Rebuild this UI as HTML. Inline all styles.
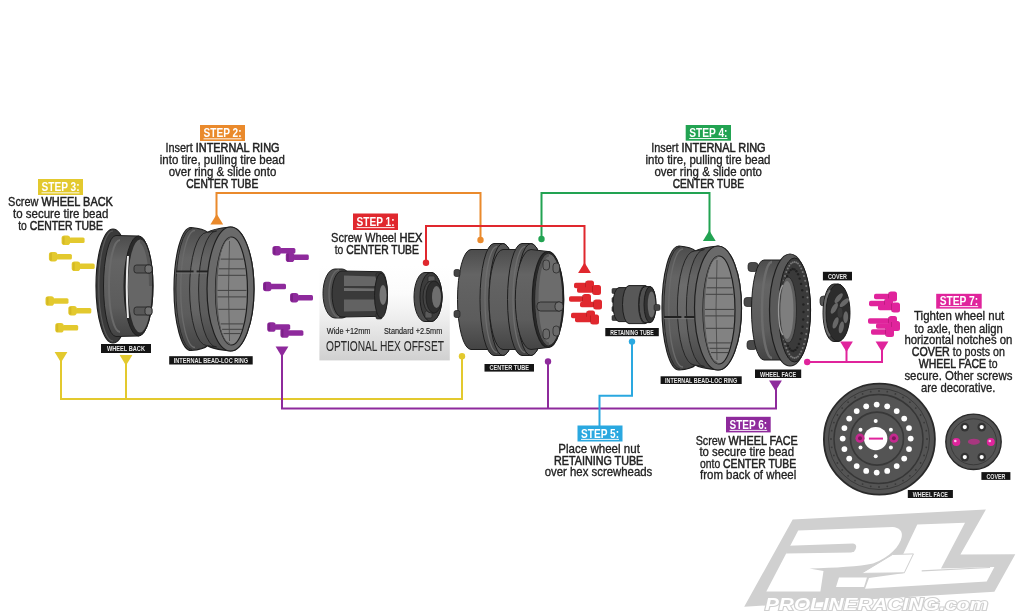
<!DOCTYPE html><html><head><meta charset="utf-8"><style>html,body{margin:0;padding:0;background:#fff;}svg{display:block;will-change:transform;}</style></head><body>
<svg width="1024" height="614" viewBox="0 0 1024 614" font-family='"Liberation Sans", sans-serif'>
<defs>
<linearGradient id="hexbox" x1="0" y1="0" x2="0" y2="1"><stop offset="0" stop-color="#ffffff"/><stop offset="0.3" stop-color="#fbfbfb"/><stop offset="0.55" stop-color="#eeeeee"/><stop offset="1" stop-color="#d0d0d0"/></linearGradient>
<linearGradient id="body" x1="0" y1="0" x2="0" y2="1"><stop offset="0" stop-color="#4c4c4c"/><stop offset="0.25" stop-color="#646464"/><stop offset="0.7" stop-color="#5c5c5c"/><stop offset="1" stop-color="#444"/></linearGradient>
<linearGradient id="band" x1="0" y1="0" x2="0" y2="1"><stop offset="0" stop-color="#555"/><stop offset="0.3" stop-color="#6c6c6c"/><stop offset="0.7" stop-color="#646464"/><stop offset="1" stop-color="#4a4a4a"/></linearGradient>
<linearGradient id="inner" x1="0" y1="0" x2="1" y2="0"><stop offset="0" stop-color="#7a7a7a"/><stop offset="1" stop-color="#5a5a5a"/></linearGradient>
</defs>
<rect width="1024" height="614" fill="#fff"/>
<g>
<polygon points="792.7,519.4 985.9,509.6 960.4,554.5 1015.3,554.2 994.4,591.7 744.2,606.8" fill="#d0d0d0"/>
<path d="M798.2,530.5 L892.6,527 C899,527.5 903,531 901.7,537 C900,546 890,557 873,563.6 C860,566.5 835,568 809.4,568.5 L823.5,571 L820.4,591.5 L766.3,591.5 Z" fill="#fff"/>
<path d="M917.3,524.5 L965,522.8 L941,568.5 L994.4,566.9 L986.7,581.6 L865,588.8 L869,578 L903,573.2 L913.4,553.9 L903,554.5 Z" fill="#fff"/>
<polygon points="892.6,554.5 913.4,553.9 904.3,572.8 861.3,573.4" fill="#fff" stroke="#d0d0d0" stroke-width="1"/>
<path d="M921.7,570.8 L990,567.5" stroke="#d0d0d0" stroke-width="1.2"/>
<path d="M788,545.8 L853,543.5 Q857,544 856,548 Q855,552 851,552.5 L786,553.5 Z" fill="#d0d0d0"/>
<polygon points="839,577.5 867,577.5 864,587 836,587" fill="#fff"/>
<text x="765" y="609.8" font-size="16.5" font-weight="bold" font-style="italic" fill="#fff" stroke="#d0d0d0" stroke-width="2" paint-order="stroke" textLength="223" lengthAdjust="spacingAndGlyphs" letter-spacing="0">PROLINERACING.com</text>
</g>
<rect x="319.4" y="266" width="130.4" height="94.4" fill="url(#hexbox)"/>
<polyline points="61,358 61,399 462,399 462,356" fill="none" stroke="#e3c92e" stroke-width="2"/>
<polyline points="126,360 126,399" fill="none" stroke="#e3c92e" stroke-width="2"/>
<polyline points="216.5,220 216.5,193 480.5,193 480.5,240" fill="none" stroke="#ea8a2c" stroke-width="2"/>
<polyline points="541.5,239 541.5,193 709.5,193 709.5,235" fill="none" stroke="#22a352" stroke-width="2"/>
<polyline points="426,262 426,226 584.5,226 584.5,266" fill="none" stroke="#e0282e" stroke-width="2"/>
<polyline points="282,352 282,408.5 776,408.5 776,385" fill="none" stroke="#8e2a9c" stroke-width="2"/>
<polyline points="548,361 548,408.5" fill="none" stroke="#8e2a9c" stroke-width="2"/>
<polyline points="632,342 632,395.8 599.5,395.8 599.5,427" fill="none" stroke="#2aa8e0" stroke-width="2"/>
<polyline points="807,362 882,362 882,346" fill="none" stroke="#e0249c" stroke-width="2"/>
<polyline points="846.5,346 846.5,362" fill="none" stroke="#e0249c" stroke-width="2"/>
<polygon points="54.6,352 67.4,352 61,362.5" fill="#e3c92e"/>
<polygon points="119.6,355 132.4,355 126,365.5" fill="#e3c92e"/>
<polygon points="210.4,224.5 223.2,224.5 216.8,214" fill="#ea8a2c"/>
<polygon points="578.1,273.0 590.9,273.0 584.5,262.5" fill="#e0282e"/>
<polygon points="702.9,241.0 715.7,241.0 709.3,230.5" fill="#22a352"/>
<polygon points="275.6,346.5 288.4,346.5 282,357.0" fill="#8e2a9c"/>
<polygon points="769.1,380.5 781.9,380.5 775.5,391.0" fill="#8e2a9c"/>
<polygon points="840.1,341.5 852.9,341.5 846.5,352.0" fill="#e0249c"/>
<polygon points="875.6,341.5 888.4,341.5 882,352.0" fill="#e0249c"/>
<circle cx="426" cy="262.8" r="3.2" fill="#e0282e"/>
<circle cx="480.5" cy="240" r="3.2" fill="#ea8a2c"/>
<circle cx="541.5" cy="239" r="3.2" fill="#22a352"/>
<circle cx="462" cy="356.2" r="3.2" fill="#e3c92e"/>
<circle cx="548" cy="361.4" r="3.2" fill="#8e2a9c"/>
<circle cx="632" cy="341.6" r="3.2" fill="#2aa8e0"/>
<circle cx="807.2" cy="362" r="3.2" fill="#e0249c"/>
<rect x="38" y="179" width="45" height="16" fill="#e3c92e"/>
<text x="41.5" y="191.2" font-size="13.3" font-weight="bold" fill="#fff" textLength="38.0" lengthAdjust="spacingAndGlyphs">STEP 3:</text>
<rect x="41.5" y="192.4" width="38.0" height="0.9" fill="#fff"/>
<text x="8.1" y="206.4" font-size="12.2" font-weight="normal" fill="#222" stroke="#222" stroke-width="0.32" textLength="104.8" lengthAdjust="spacingAndGlyphs" >Screw <tspan stroke-width="0.52">WHEEL BACK</tspan></text>
<text x="13.0" y="218.3" font-size="12.2" font-weight="normal" fill="#222" stroke="#222" stroke-width="0.32" textLength="95.3" lengthAdjust="spacingAndGlyphs" >to secure tire bead</text>
<text x="18.2" y="229.7" font-size="12.2" font-weight="normal" fill="#222" stroke="#222" stroke-width="0.32" textLength="84.8" lengthAdjust="spacingAndGlyphs" >to <tspan stroke-width="0.52">CENTER TUBE</tspan></text>
<rect x="200" y="125" width="45" height="16" fill="#ea8a2c"/>
<text x="203.5" y="137.2" font-size="13.3" font-weight="bold" fill="#fff" textLength="38.0" lengthAdjust="spacingAndGlyphs">STEP 2:</text>
<rect x="203.5" y="138.4" width="38.0" height="0.9" fill="#fff"/>
<text x="165.5" y="152.1" font-size="12.2" font-weight="normal" fill="#222" stroke="#222" stroke-width="0.32" textLength="114.0" lengthAdjust="spacingAndGlyphs" >Insert <tspan stroke-width="0.52">INTERNAL RING</tspan></text>
<text x="159.8" y="163.9" font-size="12.2" font-weight="normal" fill="#222" stroke="#222" stroke-width="0.32" textLength="125.1" lengthAdjust="spacingAndGlyphs" >into tire, pulling tire bead</text>
<text x="168.7" y="176.0" font-size="12.2" font-weight="normal" fill="#222" stroke="#222" stroke-width="0.32" textLength="107.6" lengthAdjust="spacingAndGlyphs" >over ring &amp; slide onto</text>
<text x="186.2" y="188.0" font-size="12.2" font-weight="normal" fill="#222" stroke="#222" stroke-width="0.32" textLength="72.1" lengthAdjust="spacingAndGlyphs" ><tspan stroke-width="0.52">CENTER TUBE</tspan></text>
<rect x="353" y="213.5" width="45" height="16.5" fill="#e0282e"/>
<text x="356.5" y="226.0" font-size="13.7" font-weight="bold" fill="#fff" textLength="38.0" lengthAdjust="spacingAndGlyphs">STEP 1:</text>
<rect x="356.5" y="227.2" width="38.0" height="0.9" fill="#fff"/>
<text x="331.0" y="241.8" font-size="12.6" font-weight="normal" fill="#222" stroke="#222" stroke-width="0.32" textLength="91.4" lengthAdjust="spacingAndGlyphs" >Screw Wheel <tspan stroke-width="0.52">HEX</tspan></text>
<text x="334.7" y="253.6" font-size="12.6" font-weight="normal" fill="#222" stroke="#222" stroke-width="0.32" textLength="84.2" lengthAdjust="spacingAndGlyphs" >to <tspan stroke-width="0.52">CENTER TUBE</tspan></text>
<rect x="685.7" y="125" width="45.299999999999955" height="15.699999999999989" fill="#22a352"/>
<text x="689.2" y="136.9" font-size="13.0" font-weight="bold" fill="#fff" textLength="38.3" lengthAdjust="spacingAndGlyphs">STEP 4:</text>
<rect x="689.2" y="138.1" width="38.3" height="0.9" fill="#fff"/>
<text x="651.2" y="152.1" font-size="12.2" font-weight="normal" fill="#222" stroke="#222" stroke-width="0.32" textLength="114.4" lengthAdjust="spacingAndGlyphs" >Insert <tspan stroke-width="0.52">INTERNAL RING</tspan></text>
<text x="645.5" y="163.9" font-size="12.2" font-weight="normal" fill="#222" stroke="#222" stroke-width="0.32" textLength="124.9" lengthAdjust="spacingAndGlyphs" >into tire, pulling tire bead</text>
<text x="654.4" y="176.0" font-size="12.2" font-weight="normal" fill="#222" stroke="#222" stroke-width="0.32" textLength="107.6" lengthAdjust="spacingAndGlyphs" >over ring &amp; slide onto</text>
<text x="672.7" y="188.0" font-size="12.2" font-weight="normal" fill="#222" stroke="#222" stroke-width="0.32" textLength="71.3" lengthAdjust="spacingAndGlyphs" ><tspan stroke-width="0.52">CENTER TUBE</tspan></text>
<rect x="577.5" y="425.5" width="45.0" height="16.0" fill="#2aa8e0"/>
<text x="581.0" y="437.7" font-size="13.3" font-weight="bold" fill="#fff" textLength="38.0" lengthAdjust="spacingAndGlyphs">STEP 5:</text>
<rect x="581.0" y="438.9" width="38.0" height="0.9" fill="#fff"/>
<text x="558.3" y="453.0" font-size="12.2" font-weight="normal" fill="#222" stroke="#222" stroke-width="0.32" textLength="81.6" lengthAdjust="spacingAndGlyphs" >Place wheel nut</text>
<text x="554.0" y="465.0" font-size="12.2" font-weight="normal" fill="#222" stroke="#222" stroke-width="0.32" textLength="89.3" lengthAdjust="spacingAndGlyphs" ><tspan stroke-width="0.52">RETAINING TUBE</tspan></text>
<text x="544.7" y="476.3" font-size="12.2" font-weight="normal" fill="#222" stroke="#222" stroke-width="0.32" textLength="107.6" lengthAdjust="spacingAndGlyphs" >over hex screwheads</text>
<rect x="726" y="416.8" width="44.700000000000045" height="15.599999999999966" fill="#8e2a9c"/>
<text x="729.5" y="428.7" font-size="12.9" font-weight="bold" fill="#fff" textLength="37.7" lengthAdjust="spacingAndGlyphs">STEP 6:</text>
<rect x="729.5" y="429.9" width="37.7" height="0.9" fill="#fff"/>
<text x="695.7" y="444.6" font-size="12.2" font-weight="normal" fill="#222" stroke="#222" stroke-width="0.32" textLength="101.9" lengthAdjust="spacingAndGlyphs" >Screw <tspan stroke-width="0.52">WHEEL FACE</tspan></text>
<text x="699.4" y="455.9" font-size="12.2" font-weight="normal" fill="#222" stroke="#222" stroke-width="0.32" textLength="94.6" lengthAdjust="spacingAndGlyphs" >to secure tire bead</text>
<text x="700.0" y="467.8" font-size="12.2" font-weight="normal" fill="#222" stroke="#222" stroke-width="0.32" textLength="96.2" lengthAdjust="spacingAndGlyphs" >onto <tspan stroke-width="0.52">CENTER TUBE</tspan></text>
<text x="700.0" y="479.1" font-size="12.2" font-weight="normal" fill="#222" stroke="#222" stroke-width="0.32" textLength="96.2" lengthAdjust="spacingAndGlyphs" >from back of wheel</text>
<rect x="936.2" y="293.8" width="45.5" height="14.800000000000011" fill="#e0249c"/>
<text x="939.7" y="305.0" font-size="12.3" font-weight="bold" fill="#fff" textLength="38.5" lengthAdjust="spacingAndGlyphs">STEP 7:</text>
<rect x="939.7" y="306.2" width="38.5" height="0.9" fill="#fff"/>
<text x="914.0" y="320.2" font-size="12.2" font-weight="normal" fill="#222" stroke="#222" stroke-width="0.32" textLength="90.3" lengthAdjust="spacingAndGlyphs" >Tighten wheel nut</text>
<text x="914.6" y="332.5" font-size="12.2" font-weight="normal" fill="#222" stroke="#222" stroke-width="0.32" textLength="88.2" lengthAdjust="spacingAndGlyphs" >to axle, then align</text>
<text x="904.4" y="343.5" font-size="12.2" font-weight="normal" fill="#222" stroke="#222" stroke-width="0.32" textLength="108.0" lengthAdjust="spacingAndGlyphs" >horizontal notches on</text>
<text x="911.8" y="355.8" font-size="12.2" font-weight="normal" fill="#222" stroke="#222" stroke-width="0.32" textLength="93.2" lengthAdjust="spacingAndGlyphs" ><tspan stroke-width="0.52">COVER</tspan> to posts on</text>
<text x="918.8" y="367.8" font-size="12.2" font-weight="normal" fill="#222" stroke="#222" stroke-width="0.32" textLength="78.8" lengthAdjust="spacingAndGlyphs" ><tspan stroke-width="0.52">WHEEL FACE</tspan> to</text>
<text x="904.4" y="379.9" font-size="12.2" font-weight="normal" fill="#222" stroke="#222" stroke-width="0.32" textLength="108.0" lengthAdjust="spacingAndGlyphs" >secure. Other screws</text>
<text x="921.0" y="391.7" font-size="12.2" font-weight="normal" fill="#222" stroke="#222" stroke-width="0.32" textLength="74.4" lengthAdjust="spacingAndGlyphs" >are decorative.</text>
<text x="326.7" y="334.0" font-size="9" font-weight="normal" fill="#222" stroke="#222" stroke-width="0.15" textLength="43.8" lengthAdjust="spacingAndGlyphs" >Wide +12mm</text>
<text x="384.0" y="334.0" font-size="9" font-weight="normal" fill="#222" stroke="#222" stroke-width="0.15" textLength="58.3" lengthAdjust="spacingAndGlyphs" >Standard +2.5mm</text>
<text x="326.0" y="350.6" font-size="14.6" font-weight="normal" fill="#2a2a2a" stroke="#2a2a2a" stroke-width="0.05" textLength="117.9" lengthAdjust="spacingAndGlyphs" >OPTIONAL HEX OFFSET</text>
<g><rect x="61.6" y="235.6" width="8.5" height="9.5" rx="2.8" fill="#e3c92e"/><rect x="69.1" y="237.6" width="15.5" height="5.5" rx="1.5" fill="#e3c92e"/><rect x="62.6" y="236.6" width="2" height="7.5" fill="#b89a10" opacity="0.35"/></g>
<g><rect x="48.9" y="251.9" width="8.5" height="9.5" rx="2.8" fill="#e3c92e"/><rect x="56.4" y="253.9" width="15.5" height="5.5" rx="1.5" fill="#e3c92e"/><rect x="49.9" y="252.9" width="2" height="7.5" fill="#b89a10" opacity="0.35"/></g>
<g><rect x="71.7" y="261.6" width="8.5" height="9.5" rx="2.8" fill="#e3c92e"/><rect x="79.2" y="263.6" width="15.5" height="5.5" rx="1.5" fill="#e3c92e"/><rect x="72.7" y="262.6" width="2" height="7.5" fill="#b89a10" opacity="0.35"/></g>
<g><rect x="45.5" y="296.2" width="8.5" height="9.5" rx="2.8" fill="#e3c92e"/><rect x="53.0" y="298.2" width="15.5" height="5.5" rx="1.5" fill="#e3c92e"/><rect x="46.5" y="297.2" width="2" height="7.5" fill="#b89a10" opacity="0.35"/></g>
<g><rect x="68.3" y="305.9" width="8.5" height="9.5" rx="2.8" fill="#e3c92e"/><rect x="75.8" y="307.9" width="15.5" height="5.5" rx="1.5" fill="#e3c92e"/><rect x="69.3" y="306.9" width="2" height="7.5" fill="#b89a10" opacity="0.35"/></g>
<g><rect x="55.2" y="323.1" width="8.5" height="9.5" rx="2.8" fill="#e3c92e"/><rect x="62.7" y="325.1" width="15.5" height="5.5" rx="1.5" fill="#e3c92e"/><rect x="56.2" y="324.1" width="2" height="7.5" fill="#b89a10" opacity="0.35"/></g>
<g><rect x="272.4" y="245.9" width="8.5" height="9.5" rx="2.8" fill="#8e2a9c"/><rect x="279.9" y="247.9" width="15.5" height="5.5" rx="1.5" fill="#8e2a9c"/><rect x="273.4" y="246.9" width="2" height="7.5" fill="#5a1060" opacity="0.35"/></g>
<g><rect x="285.8" y="252.6" width="8.5" height="9.5" rx="2.8" fill="#8e2a9c"/><rect x="293.3" y="254.6" width="15.5" height="5.5" rx="1.5" fill="#8e2a9c"/><rect x="286.8" y="253.6" width="2" height="7.5" fill="#5a1060" opacity="0.35"/></g>
<g><rect x="263" y="281.8" width="8.5" height="9.5" rx="2.8" fill="#8e2a9c"/><rect x="270.5" y="283.8" width="15.5" height="5.5" rx="1.5" fill="#8e2a9c"/><rect x="264" y="282.8" width="2" height="7.5" fill="#5a1060" opacity="0.35"/></g>
<g><rect x="290" y="292.9" width="8.5" height="9.5" rx="2.8" fill="#8e2a9c"/><rect x="297.5" y="294.9" width="15.5" height="5.5" rx="1.5" fill="#8e2a9c"/><rect x="291" y="293.9" width="2" height="7.5" fill="#5a1060" opacity="0.35"/></g>
<g><rect x="267.2" y="322.2" width="8.5" height="9.5" rx="2.8" fill="#8e2a9c"/><rect x="274.7" y="324.2" width="15.5" height="5.5" rx="1.5" fill="#8e2a9c"/><rect x="268.2" y="323.2" width="2" height="7.5" fill="#5a1060" opacity="0.35"/></g>
<g><rect x="280.4" y="328.2" width="8.5" height="9.5" rx="2.8" fill="#8e2a9c"/><rect x="287.9" y="330.2" width="15.5" height="5.5" rx="1.5" fill="#8e2a9c"/><rect x="281.4" y="329.2" width="2" height="7.5" fill="#5a1060" opacity="0.35"/></g>
<g><rect x="574" y="282.8" width="12.5" height="5.5" rx="1.8" fill="#e0282e"/><rect x="585.5" y="280.5" width="8.5" height="10" rx="2.5" fill="#e0282e"/><rect x="585.0" y="281.5" width="1" height="8" fill="#901010" opacity="0.4"/></g>
<g><rect x="577" y="287.2" width="16.5" height="5.5" rx="1.8" fill="#e0282e"/><rect x="592.5" y="285.0" width="8.5" height="10" rx="2.5" fill="#e0282e"/><rect x="592.0" y="286.0" width="1" height="8" fill="#901010" opacity="0.4"/></g>
<g><rect x="569" y="296.2" width="14.5" height="5.5" rx="1.8" fill="#e0282e"/><rect x="582.5" y="294.0" width="8.5" height="10" rx="2.5" fill="#e0282e"/><rect x="582.0" y="295.0" width="1" height="8" fill="#901010" opacity="0.4"/></g>
<g><rect x="580" y="301.8" width="14.5" height="5.5" rx="1.8" fill="#e0282e"/><rect x="593.5" y="299.5" width="8.5" height="10" rx="2.5" fill="#e0282e"/><rect x="593.0" y="300.5" width="1" height="8" fill="#901010" opacity="0.4"/></g>
<g><rect x="571" y="312.8" width="16.5" height="5.5" rx="1.8" fill="#e0282e"/><rect x="586.5" y="310.5" width="8.5" height="10" rx="2.5" fill="#e0282e"/><rect x="586.0" y="311.5" width="1" height="8" fill="#901010" opacity="0.4"/></g>
<g><rect x="575" y="316.8" width="16.5" height="5.5" rx="1.8" fill="#e0282e"/><rect x="590.5" y="314.5" width="8.5" height="10" rx="2.5" fill="#e0282e"/><rect x="590.0" y="315.5" width="1" height="8" fill="#901010" opacity="0.4"/></g>
<g><rect x="874" y="293.8" width="15.5" height="5.5" rx="1.8" fill="#e0249c"/><rect x="888.5" y="291.5" width="8.5" height="10" rx="2.5" fill="#e0249c"/><rect x="888.0" y="292.5" width="1" height="8" fill="#901060" opacity="0.4"/></g>
<g><rect x="869" y="300.8" width="16.5" height="5.5" rx="1.8" fill="#e0249c"/><rect x="884.5" y="298.5" width="8.5" height="10" rx="2.5" fill="#e0249c"/><rect x="884.0" y="299.5" width="1" height="8" fill="#901060" opacity="0.4"/></g>
<g><rect x="878" y="304.8" width="14.5" height="5.5" rx="1.8" fill="#e0249c"/><rect x="891.5" y="302.5" width="8.5" height="10" rx="2.5" fill="#e0249c"/><rect x="891.0" y="303.5" width="1" height="8" fill="#901060" opacity="0.4"/></g>
<g><rect x="868" y="318.2" width="21.5" height="5.5" rx="1.8" fill="#e0249c"/><rect x="888.5" y="316.0" width="8.5" height="10" rx="2.5" fill="#e0249c"/><rect x="888.0" y="317.0" width="1" height="8" fill="#901060" opacity="0.4"/></g>
<g><rect x="876" y="323.2" width="16.5" height="5.5" rx="1.8" fill="#e0249c"/><rect x="891.5" y="321.0" width="8.5" height="10" rx="2.5" fill="#e0249c"/><rect x="891.0" y="322.0" width="1" height="8" fill="#901060" opacity="0.4"/></g>
<g><rect x="871" y="329.2" width="15.5" height="5.5" rx="1.8" fill="#e0249c"/><rect x="885.5" y="327.0" width="8.5" height="10" rx="2.5" fill="#e0249c"/><rect x="885.0" y="328.0" width="1" height="8" fill="#901060" opacity="0.4"/></g>
<ellipse cx="113" cy="286" rx="17" ry="57" fill="#3a3a3a" stroke="#1e1e1e" stroke-width="1.2" />
<path d="M113,231 A14,54 0 0 0 113,341" fill="none" stroke="#5a5a5a" stroke-width="1.2" />
<path d="M116,235.5 L138.5,236 A14.5,50 0 0 1 138.5,336 L116,336.5 A12.5,50.5 0 0 1 116,235.5 Z" fill="url(#body)" stroke="#1e1e1e" stroke-width="1" />
<path d="M120,240 A11,46 0 0 0 120,332" fill="none" stroke="#6a6a6a" stroke-width="2" />
<ellipse cx="138.5" cy="286" rx="14.5" ry="50" fill="#2a2a2a" stroke="#1e1e1e" stroke-width="1" />
<ellipse cx="140" cy="286" rx="12" ry="46.5" fill="#666" stroke="none" stroke-width="1" />
<path d="M127,256 Q124.5,286 127,318 L129,318 Q126.5,286 129,256 Z" fill="#e8e8e8" stroke="none" stroke-width="1" />
<path d="M140,239.5 A12,46.5 0 0 1 152,286 L149,286 A10,43 0 0 0 140,243 Z" fill="#555" stroke="none" stroke-width="1" />
<rect x="134" y="265" width="18" height="8" rx="2.5" fill="#585858" stroke="#222" stroke-width="0.8"/>
<rect x="145" y="265" width="7" height="8" rx="2.5" fill="#707070" stroke="#222" stroke-width="0.8"/>
<rect x="134" y="307" width="18" height="8" rx="2.5" fill="#585858" stroke="#222" stroke-width="0.8"/>
<rect x="145" y="307" width="7" height="8" rx="2.5" fill="#707070" stroke="#222" stroke-width="0.8"/>
<rect x="101" y="344" width="50.0" height="9.0" fill="#151515"/>
<text x="107.0" y="351.4" font-size="7.6" font-weight="bold" fill="#e8e8e8" textLength="38.0" lengthAdjust="spacingAndGlyphs">WHEEL BACK</text>
<path d="M191,227.5 Q203.59,228.5 207.59,232.5 Q211.59,229 230.5,227 A23.5,62 0 0 1 230.5,351 Q211.59,349 207.59,345.5 Q203.59,349.5 191,350.5 A17,61.5 0 0 1 191,227.5 Z" fill="url(#body)" stroke="#1e1e1e" stroke-width="1.2" />
<path d="M192,228.5 A16,60.0 0 0 0 192,349.5" fill="none" stroke="#2a2a2a" stroke-width="1" />
<path d="M195,230.5 A14,57.5 0 0 0 195,347.5" fill="none" stroke="#6a6a6a" stroke-width="1.4" />
<path d="M206.59,232.5 A17,56.5 0 0 0 206.59,345.5 L216.59,347.0 A18,58.0 0 0 1 216.59,231.0 Z" fill="url(#band)" stroke="#262626" stroke-width="1" />
<path d="M176,271.5 L193.59,271.5" stroke="#222" stroke-width="2"/>
<path d="M196.59,271.5 L210.0,271.5" stroke="#222" stroke-width="2"/>
<path d="M176,273.1 L210.0,273.1" stroke="#7a7a7a" stroke-width="0.8"/>
<ellipse cx="230.5" cy="289" rx="23.5" ry="62" fill="#6a6a6a" stroke="#1e1e1e" stroke-width="1.2" />
<ellipse cx="231.5" cy="291" rx="16.0" ry="54" fill="#828282" stroke="#1e1e1e" stroke-width="1.2" />
<path d="M231.5,237 A16.0,54 0 0 0 231.5,345 L228.5,342 A11.0,50 0 0 1 228.5,240 Z" fill="#5a5a5a" stroke="none" stroke-width="1" />
<rect x="220.7" y="258.6" width="22.6" height="1" fill="#333" opacity="0.8"/>
<rect x="219.0" y="268.3" width="26.0" height="1" fill="#333" opacity="0.8"/>
<rect x="218.2" y="274.8" width="27.5" height="1" fill="#333" opacity="0.8"/>
<rect x="217.5" y="289.9" width="29.0" height="1" fill="#333" opacity="0.8"/>
<rect x="217.6" y="296.4" width="28.8" height="1" fill="#333" opacity="0.8"/>
<rect x="218.4" y="308.8" width="27.2" height="1" fill="#333" opacity="0.8"/>
<rect x="220.7" y="323.4" width="22.6" height="1" fill="#333" opacity="0.8"/>
<rect x="222.1" y="328.8" width="19.9" height="1" fill="#333" opacity="0.8"/>
<rect x="223.5" y="333.1" width="17.0" height="1" fill="#333" opacity="0.8"/>
<path d="M229.5,241 Q227.5,291 229.5,341" fill="none" stroke="#444" stroke-width="0.8" />
<rect x="169.2" y="356.2" width="83.5" height="8.3" fill="#151515"/>
<text x="173.7" y="363.0" font-size="7.1" font-weight="bold" fill="#e8e8e8" textLength="74.5" lengthAdjust="spacingAndGlyphs">INTERNAL BEAD-LOC RING</text>
<path d="M679,246 Q691.38,247 695.38,251 Q699.38,248 718,246 A23.5,62 0 0 1 718,370 Q699.38,368 695.38,365 Q691.38,369 679,370 A17,62 0 0 1 679,246 Z" fill="url(#body)" stroke="#1e1e1e" stroke-width="1.2" />
<path d="M680,247 A16,60.5 0 0 0 680,369" fill="none" stroke="#2a2a2a" stroke-width="1" />
<path d="M683,249 A14,58 0 0 0 683,367" fill="none" stroke="#6a6a6a" stroke-width="1.4" />
<path d="M694.38,251 A17,57 0 0 0 694.38,365 L704.38,366.5 A18,58.5 0 0 1 704.38,249.5 Z" fill="url(#band)" stroke="#262626" stroke-width="1" />
<path d="M664,317 L681.38,317" stroke="#222" stroke-width="2"/>
<path d="M684.38,317 L697.5,317" stroke="#222" stroke-width="2"/>
<path d="M664,318.6 L697.5,318.6" stroke="#7a7a7a" stroke-width="0.8"/>
<ellipse cx="718" cy="308" rx="23.5" ry="62" fill="#6a6a6a" stroke="#1e1e1e" stroke-width="1.2" />
<ellipse cx="719" cy="310" rx="16.0" ry="54" fill="#828282" stroke="#1e1e1e" stroke-width="1.2" />
<path d="M719,256 A16.0,54 0 0 0 719,364 L716,361 A11.0,50 0 0 1 716,259 Z" fill="#5a5a5a" stroke="none" stroke-width="1" />
<rect x="708.2" y="277.6" width="22.6" height="1" fill="#333" opacity="0.8"/>
<rect x="706.5" y="287.3" width="26.0" height="1" fill="#333" opacity="0.8"/>
<rect x="705.7" y="293.8" width="27.5" height="1" fill="#333" opacity="0.8"/>
<rect x="705.0" y="308.9" width="29.0" height="1" fill="#333" opacity="0.8"/>
<rect x="705.1" y="315.4" width="28.8" height="1" fill="#333" opacity="0.8"/>
<rect x="705.9" y="327.8" width="27.2" height="1" fill="#333" opacity="0.8"/>
<rect x="708.2" y="342.4" width="22.6" height="1" fill="#333" opacity="0.8"/>
<rect x="709.6" y="347.8" width="19.9" height="1" fill="#333" opacity="0.8"/>
<rect x="711.0" y="352.1" width="17.0" height="1" fill="#333" opacity="0.8"/>
<path d="M717,260 Q715,310 717,360" fill="none" stroke="#444" stroke-width="0.8" />
<rect x="660.6" y="376.3" width="81.1" height="7.7" fill="#151515"/>
<text x="665.1" y="382.6" font-size="6.5" font-weight="bold" fill="#e8e8e8" textLength="72.1" lengthAdjust="spacingAndGlyphs">INTERNAL BEAD-LOC RING</text>
<path d="M335,269.0 L342,269.0 A12,24.5 0 0 1 342,318.0 L335,318.0 A12,24.5 0 0 1 335,269.0 Z" fill="#505050" stroke="#1e1e1e" stroke-width="1" />
<path d="M339,270 A10,23.5 0 0 0 339,317" fill="none" stroke="#656565" stroke-width="1.5" />
<path d="M342,271 L381,271.7 A6.5,22.3 0 0 1 381,316.3 L342,317 A10,23 0 0 1 342,271 Z" fill="#3a3a3a" stroke="#1e1e1e" stroke-width="1" />
<path d="M344,275.5 L376,276.5 L376,286 L344,286 Z" fill="#666"/>
<path d="M344,299.5 L376,299.5 L376,311 L344,311.5 Z" fill="#626262"/>
<path d="M344,288 L376,288.5 L376,291 L344,291 Z" fill="#6e6e6e"/>
<rect x="376" y="273" width="6" height="6" rx="1.5" fill="#3a3a3a" stroke="#222" stroke-width="0.6"/>
<rect x="376" y="287" width="6" height="6" rx="1.5" fill="#3a3a3a" stroke="#222" stroke-width="0.6"/>
<rect x="376" y="301" width="6" height="6" rx="1.5" fill="#3a3a3a" stroke="#222" stroke-width="0.6"/>
<rect x="376" y="313" width="6" height="6" rx="1.5" fill="#3a3a3a" stroke="#222" stroke-width="0.6"/>
<ellipse cx="381" cy="295.6" rx="6.5" ry="22.3" fill="#333" stroke="#1e1e1e" stroke-width="1" />
<ellipse cx="383" cy="295" rx="3.5" ry="10" fill="#777" stroke="none" stroke-width="1" />
<path d="M425,272.5 L431,272.5 A11,24.5 0 0 1 431,321.5 L425,321.5 A11,24.5 0 0 1 425,272.5 Z" fill="#4c4c4c" stroke="#1e1e1e" stroke-width="1" />
<ellipse cx="431" cy="297" rx="11" ry="24.5" fill="#3c3c3c" stroke="#1e1e1e" stroke-width="1" />
<rect x="428" y="276" width="7" height="6" rx="1.5" fill="#5a5a5a" stroke="#222" stroke-width="0.6"/>
<rect x="425" y="311" width="7" height="7" rx="1.5" fill="#5a5a5a" stroke="#222" stroke-width="0.6"/>
<path d="M431,281 L434,281 A8,16 0 0 1 434,313 L431,313 A8,16 0 0 1 431,281 Z" fill="#444" stroke="#1e1e1e" stroke-width="0.8" />
<ellipse cx="434" cy="297" rx="8" ry="16" fill="#2e2e2e" stroke="#1e1e1e" stroke-width="0.8" />
<ellipse cx="436.5" cy="297" rx="4.5" ry="11" fill="#6e6e6e" stroke="none" stroke-width="1" />
<path d="M471,249.5 L494,249.5 A13.5,50 0 0 1 494,349.5 L471,349.5 A13.5,50 0 0 1 471,249.5 Z" fill="url(#body)" stroke="#1e1e1e" stroke-width="1" />
<path d="M494,243.5 L503,243.5 A14,56 0 0 1 503,355.5 L494,355.5 A14,56 0 0 1 494,243.5 Z" fill="url(#body)" stroke="#1e1e1e" stroke-width="1" />
<ellipse cx="503" cy="299.5" rx="14" ry="56" fill="#555" stroke="#1e1e1e" stroke-width="1" />
<path d="M503,249.5 L522,249.5 A14,50 0 0 1 522,349.5 L503,349.5 A14,50 0 0 1 503,249.5 Z" fill="url(#body)" stroke="#1e1e1e" stroke-width="1" />
<path d="M522,243.5 L531,243.5 A14.5,56 0 0 1 531,355.5 L522,355.5 A14.5,56 0 0 1 522,243.5 Z" fill="url(#body)" stroke="#1e1e1e" stroke-width="1" />
<ellipse cx="531" cy="299.5" rx="14.5" ry="56" fill="#555" stroke="#1e1e1e" stroke-width="1" />
<path d="M531,249.5 L548,251.5 A15.7,48 0 0 1 548,347.5 L531,349.5 A15.7,50 0 0 1 531,249.5 Z" fill="url(#body)" stroke="#1e1e1e" stroke-width="1" />
<path d="M497,246.5 A12,53 0 0 0 497,352.5" fill="none" stroke="#6e6e6e" stroke-width="1.3" />
<path d="M525,246.5 A12,53 0 0 0 525,352.5" fill="none" stroke="#6e6e6e" stroke-width="1.3" />
<ellipse cx="548" cy="299.5" rx="15.7" ry="48" fill="#2a2a2a" stroke="#1e1e1e" stroke-width="1.2" />
<ellipse cx="549" cy="299.5" rx="13.8" ry="46" fill="#6c6c6c" stroke="#1a1a1a" stroke-width="0.8" />
<path d="M549,253.5 A13.8,46 0 0 0 549,345.5 L549,342.5 A10.5,43 0 0 1 549,256.5 Z" fill="#555" stroke="none" stroke-width="1" />
<rect x="537" y="302" width="26" height="9" rx="3.5" fill="#606060" stroke="#222" stroke-width="0.8"/>
<rect x="555" y="302" width="8" height="9" rx="3.5" fill="#707070" stroke="#222" stroke-width="0.8"/>
<rect x="543" y="260" width="6.5" height="10" rx="3" fill="#6a6a6a" stroke="#222" stroke-width="0.7"/>
<rect x="553" y="263" width="6.5" height="10" rx="3" fill="#6a6a6a" stroke="#222" stroke-width="0.7"/>
<rect x="543" y="329" width="6.5" height="10" rx="3" fill="#6a6a6a" stroke="#222" stroke-width="0.7"/>
<rect x="553" y="326" width="6.5" height="10" rx="3" fill="#6a6a6a" stroke="#222" stroke-width="0.7"/>
<rect x="454" y="269.5" width="6" height="7" rx="2" fill="#444" stroke="#222" stroke-width="0.7"/>
<rect x="454" y="310.5" width="6" height="7" rx="2" fill="#444" stroke="#222" stroke-width="0.7"/>
<rect x="484.5" y="364" width="49.5" height="7.6" fill="#151515"/>
<text x="489.5" y="370.2" font-size="6.5" font-weight="bold" fill="#e8e8e8" textLength="39.5" lengthAdjust="spacingAndGlyphs">CENTER TUBE</text>
<rect x="612" y="288.5" width="7" height="5" rx="1" fill="#3e3e3e" stroke="#222" stroke-width="0.6"/>
<rect x="612" y="297.5" width="7" height="5" rx="1" fill="#3e3e3e" stroke="#222" stroke-width="0.6"/>
<rect x="612" y="306.5" width="7" height="5" rx="1" fill="#3e3e3e" stroke="#222" stroke-width="0.6"/>
<rect x="612" y="315.5" width="7" height="5" rx="1" fill="#3e3e3e" stroke="#222" stroke-width="0.6"/>
<path d="M619,287.6 L629,287.6 A6,17 0 0 1 629,321.6 L619,321.6 A6,17 0 0 1 619,287.6 Z" fill="#444" stroke="#1e1e1e" stroke-width="1" />
<path d="M629,285.6 L645,285.6 A6.5,19 0 0 1 645,323.6 L629,323.6 A6.5,19 0 0 1 629,285.6 Z" fill="#585858" stroke="#1e1e1e" stroke-width="1" />
<ellipse cx="645" cy="304.6" rx="6.5" ry="19" fill="#4a4a4a" stroke="#1e1e1e" stroke-width="0.8" />
<path d="M645,286.6 L650,286.6 A6,18 0 0 1 650,322.6 L645,322.6 A6,18 0 0 1 645,286.6 Z" fill="#505050" stroke="#1e1e1e" stroke-width="1" />
<ellipse cx="650" cy="304.6" rx="6" ry="18" fill="#333" stroke="#1e1e1e" stroke-width="1" />
<ellipse cx="651.5" cy="304.6" rx="3.8" ry="13" fill="#6a6a6a" stroke="none" stroke-width="1" />
<rect x="654" y="304.5" width="6" height="6" rx="1.5" fill="#444" stroke="#222" stroke-width="0.6"/>
<rect x="605.3" y="328" width="53.5" height="8.2" fill="#151515"/>
<text x="610.3" y="334.7" font-size="7.0" font-weight="bold" fill="#e8e8e8" textLength="43.5" lengthAdjust="spacingAndGlyphs">RETAINING TUBE</text>
<rect x="748" y="262.5" width="10" height="9" rx="3" fill="#4a4a4a" stroke="#222" stroke-width="0.7"/>
<rect x="744" y="297.5" width="10" height="9" rx="3" fill="#4a4a4a" stroke="#222" stroke-width="0.7"/>
<rect x="747" y="340.5" width="10" height="9" rx="3" fill="#4a4a4a" stroke="#222" stroke-width="0.7"/>
<path d="M764,260 L786,260 A12.5,50 0 0 1 786,360 L764,360 A12.5,50 0 0 1 764,260 Z" fill="url(#body)" stroke="#1e1e1e" stroke-width="1" />
<path d="M772,262 A10,48 0 0 0 772,358" fill="none" stroke="#6c6c6c" stroke-width="2.5" />
<ellipse cx="790" cy="310" rx="20.5" ry="56" fill="#595959" stroke="#1e1e1e" stroke-width="1.2" />
<ellipse cx="794.5" cy="310" rx="16" ry="52" fill="#3a3a3a" stroke="#1a1a1a" stroke-width="1" />
<circle cx="808.0" cy="310.0" r="1" fill="#777"/>
<circle cx="807.9" cy="316.3" r="1" fill="#777"/>
<circle cx="807.5" cy="322.4" r="1" fill="#777"/>
<circle cx="807.0" cy="328.4" r="1" fill="#777"/>
<circle cx="806.2" cy="334.0" r="1" fill="#777"/>
<circle cx="805.2" cy="339.2" r="1" fill="#777"/>
<circle cx="804.0" cy="343.9" r="1" fill="#777"/>
<circle cx="802.7" cy="348.1" r="1" fill="#777"/>
<circle cx="801.2" cy="351.6" r="1" fill="#777"/>
<circle cx="799.7" cy="354.3" r="1" fill="#777"/>
<circle cx="798.0" cy="356.4" r="1" fill="#777"/>
<circle cx="796.3" cy="357.6" r="1" fill="#777"/>
<circle cx="794.5" cy="358.0" r="1" fill="#777"/>
<circle cx="792.7" cy="357.6" r="1" fill="#777"/>
<circle cx="791.0" cy="356.4" r="1" fill="#777"/>
<circle cx="789.3" cy="354.3" r="1" fill="#777"/>
<circle cx="787.8" cy="351.6" r="1" fill="#777"/>
<circle cx="786.3" cy="348.1" r="1" fill="#777"/>
<circle cx="785.0" cy="343.9" r="1" fill="#777"/>
<circle cx="783.8" cy="339.2" r="1" fill="#777"/>
<circle cx="782.8" cy="334.0" r="1" fill="#777"/>
<circle cx="782.0" cy="328.4" r="1" fill="#777"/>
<circle cx="781.5" cy="322.4" r="1" fill="#777"/>
<circle cx="781.1" cy="316.3" r="1" fill="#777"/>
<circle cx="781.0" cy="310.0" r="1" fill="#777"/>
<circle cx="781.1" cy="303.7" r="1" fill="#777"/>
<circle cx="781.5" cy="297.6" r="1" fill="#777"/>
<circle cx="782.0" cy="291.6" r="1" fill="#777"/>
<circle cx="782.8" cy="286.0" r="1" fill="#777"/>
<circle cx="783.8" cy="280.8" r="1" fill="#777"/>
<circle cx="785.0" cy="276.1" r="1" fill="#777"/>
<circle cx="786.3" cy="271.9" r="1" fill="#777"/>
<circle cx="787.8" cy="268.4" r="1" fill="#777"/>
<circle cx="789.3" cy="265.7" r="1" fill="#777"/>
<circle cx="791.0" cy="263.6" r="1" fill="#777"/>
<circle cx="792.7" cy="262.4" r="1" fill="#777"/>
<circle cx="794.5" cy="262.0" r="1" fill="#777"/>
<circle cx="796.3" cy="262.4" r="1" fill="#777"/>
<circle cx="798.0" cy="263.6" r="1" fill="#777"/>
<circle cx="799.7" cy="265.7" r="1" fill="#777"/>
<circle cx="801.2" cy="268.4" r="1" fill="#777"/>
<circle cx="802.7" cy="271.9" r="1" fill="#777"/>
<circle cx="804.0" cy="276.1" r="1" fill="#777"/>
<circle cx="805.2" cy="280.8" r="1" fill="#777"/>
<circle cx="806.2" cy="286.0" r="1" fill="#777"/>
<circle cx="807.0" cy="291.6" r="1" fill="#777"/>
<circle cx="807.5" cy="297.6" r="1" fill="#777"/>
<circle cx="807.9" cy="303.7" r="1" fill="#777"/>
<circle cx="803.5" cy="312.0" r="1.2" fill="#222"/>
<circle cx="803.2" cy="319.5" r="1.2" fill="#222"/>
<circle cx="802.6" cy="326.7" r="1.2" fill="#222"/>
<circle cx="801.6" cy="333.3" r="1.2" fill="#222"/>
<circle cx="800.4" cy="339.1" r="1.2" fill="#222"/>
<circle cx="798.9" cy="343.9" r="1.2" fill="#222"/>
<circle cx="797.2" cy="347.6" r="1.2" fill="#222"/>
<circle cx="795.4" cy="349.9" r="1.2" fill="#222"/>
<circle cx="793.4" cy="351.0" r="1.2" fill="#222"/>
<circle cx="791.5" cy="350.6" r="1.2" fill="#222"/>
<circle cx="789.6" cy="348.8" r="1.2" fill="#222"/>
<circle cx="787.9" cy="345.7" r="1.2" fill="#222"/>
<circle cx="786.3" cy="341.4" r="1.2" fill="#222"/>
<circle cx="784.9" cy="336.1" r="1.2" fill="#222"/>
<circle cx="783.8" cy="329.8" r="1.2" fill="#222"/>
<circle cx="783.0" cy="322.9" r="1.2" fill="#222"/>
<circle cx="782.6" cy="315.5" r="1.2" fill="#222"/>
<circle cx="782.5" cy="308.0" r="1.2" fill="#222"/>
<circle cx="782.8" cy="300.5" r="1.2" fill="#222"/>
<circle cx="783.4" cy="293.3" r="1.2" fill="#222"/>
<circle cx="784.4" cy="286.7" r="1.2" fill="#222"/>
<circle cx="785.6" cy="280.9" r="1.2" fill="#222"/>
<circle cx="787.1" cy="276.1" r="1.2" fill="#222"/>
<circle cx="788.8" cy="272.4" r="1.2" fill="#222"/>
<circle cx="790.6" cy="270.1" r="1.2" fill="#222"/>
<circle cx="792.6" cy="269.0" r="1.2" fill="#222"/>
<circle cx="794.5" cy="269.4" r="1.2" fill="#222"/>
<circle cx="796.4" cy="271.2" r="1.2" fill="#222"/>
<circle cx="798.1" cy="274.3" r="1.2" fill="#222"/>
<circle cx="799.7" cy="278.6" r="1.2" fill="#222"/>
<circle cx="801.1" cy="283.9" r="1.2" fill="#222"/>
<circle cx="802.2" cy="290.2" r="1.2" fill="#222"/>
<circle cx="803.0" cy="297.1" r="1.2" fill="#222"/>
<circle cx="803.4" cy="304.5" r="1.2" fill="#222"/>
<ellipse cx="788" cy="310" rx="8.5" ry="33" fill="#5e5e5e" stroke="#222" stroke-width="0.8" />
<ellipse cx="787" cy="310" rx="6.5" ry="29" fill="#7e7e7e" stroke="none" stroke-width="1" />
<path d="M783,285 A6,26 0 0 0 783,335" fill="none" stroke="#9a9a9a" stroke-width="1.5" />
<rect x="755" y="369.5" width="46.2" height="8.5" fill="#151515"/>
<text x="760.0" y="376.5" font-size="7.2" font-weight="bold" fill="#e8e8e8" textLength="36.2" lengthAdjust="spacingAndGlyphs">WHEEL FACE</text>
<rect x="820" y="296" width="8" height="10" rx="3.5" fill="#555" stroke="#222" stroke-width="0.7"/>
<path d="M834,284.0 L838,284.0 A11,28.75 0 0 1 838,341.5 L834,341.5 A11,28.75 0 0 1 834,284.0 Z" fill="#3e3e3e" stroke="#1e1e1e" stroke-width="1" />
<ellipse cx="838" cy="312.75" rx="12" ry="28.5" fill="#2c2c2c" stroke="#1e1e1e" stroke-width="1" />
<path d="M830,290 A9,25 0 0 0 830,336" fill="none" stroke="#6e6e6e" stroke-width="2" />
<ellipse cx="845.7" cy="317.2" rx="2.4" ry="6" fill="#686868" transform="rotate(2.6 845.7 317.2)"/>
<ellipse cx="841.3" cy="327.4" rx="2.4" ry="6" fill="#686868" transform="rotate(11.6 841.3 327.4)"/>
<ellipse cx="835.6" cy="322.9" rx="2.4" ry="6" fill="#686868" transform="rotate(20.6 835.6 322.9)"/>
<ellipse cx="834.3" cy="308.3" rx="2.4" ry="6" fill="#686868" transform="rotate(29.6 834.3 308.3)"/>
<ellipse cx="838.7" cy="298.1" rx="2.4" ry="6" fill="#686868" transform="rotate(38.6 838.7 298.1)"/>
<ellipse cx="844.4" cy="302.6" rx="2.4" ry="6" fill="#686868" transform="rotate(47.6 844.4 302.6)"/>
<ellipse cx="840" cy="312.75" rx="2.5" ry="5" fill="#3a3a3a" stroke="none" stroke-width="1" />
<rect x="822.9" y="271.8" width="29.1" height="8.6" fill="#151515"/>
<text x="827.9" y="278.9" font-size="7.3" font-weight="bold" fill="#e8e8e8" textLength="19.1" lengthAdjust="spacingAndGlyphs">COVER</text>
<circle cx="879.4" cy="439.2" r="55.5" fill="#545454" stroke="#2a2a2a" stroke-width="1.8"/>
<circle cx="879" cy="439" r="50.5" fill="none" stroke="#3a3a3a" stroke-width="1"/>
<circle cx="878.5" cy="439" r="44.5" fill="none" stroke="#363636" stroke-width="1.4"/>
<circle cx="927.0" cy="439.0" r="0.9" fill="#3a3a3a"/>
<circle cx="926.3" cy="447.3" r="0.9" fill="#3a3a3a"/>
<circle cx="924.1" cy="455.4" r="0.9" fill="#3a3a3a"/>
<circle cx="920.6" cy="463.0" r="0.9" fill="#3a3a3a"/>
<circle cx="915.8" cy="469.9" r="0.9" fill="#3a3a3a"/>
<circle cx="909.9" cy="475.8" r="0.9" fill="#3a3a3a"/>
<circle cx="903.0" cy="480.6" r="0.9" fill="#3a3a3a"/>
<circle cx="895.4" cy="484.1" r="0.9" fill="#3a3a3a"/>
<circle cx="887.3" cy="486.3" r="0.9" fill="#3a3a3a"/>
<circle cx="879.0" cy="487.0" r="0.9" fill="#3a3a3a"/>
<circle cx="870.7" cy="486.3" r="0.9" fill="#3a3a3a"/>
<circle cx="862.6" cy="484.1" r="0.9" fill="#3a3a3a"/>
<circle cx="855.0" cy="480.6" r="0.9" fill="#3a3a3a"/>
<circle cx="848.1" cy="475.8" r="0.9" fill="#3a3a3a"/>
<circle cx="842.2" cy="469.9" r="0.9" fill="#3a3a3a"/>
<circle cx="837.4" cy="463.0" r="0.9" fill="#3a3a3a"/>
<circle cx="833.9" cy="455.4" r="0.9" fill="#3a3a3a"/>
<circle cx="831.7" cy="447.3" r="0.9" fill="#3a3a3a"/>
<circle cx="831.0" cy="439.0" r="0.9" fill="#3a3a3a"/>
<circle cx="831.7" cy="430.7" r="0.9" fill="#3a3a3a"/>
<circle cx="833.9" cy="422.6" r="0.9" fill="#3a3a3a"/>
<circle cx="837.4" cy="415.0" r="0.9" fill="#3a3a3a"/>
<circle cx="842.2" cy="408.1" r="0.9" fill="#3a3a3a"/>
<circle cx="848.1" cy="402.2" r="0.9" fill="#3a3a3a"/>
<circle cx="855.0" cy="397.4" r="0.9" fill="#3a3a3a"/>
<circle cx="862.6" cy="393.9" r="0.9" fill="#3a3a3a"/>
<circle cx="870.7" cy="391.7" r="0.9" fill="#3a3a3a"/>
<circle cx="879.0" cy="391.0" r="0.9" fill="#3a3a3a"/>
<circle cx="887.3" cy="391.7" r="0.9" fill="#3a3a3a"/>
<circle cx="895.4" cy="393.9" r="0.9" fill="#3a3a3a"/>
<circle cx="903.0" cy="397.4" r="0.9" fill="#3a3a3a"/>
<circle cx="909.9" cy="402.2" r="0.9" fill="#3a3a3a"/>
<circle cx="915.8" cy="408.1" r="0.9" fill="#3a3a3a"/>
<circle cx="920.6" cy="415.0" r="0.9" fill="#3a3a3a"/>
<circle cx="924.1" cy="422.6" r="0.9" fill="#3a3a3a"/>
<circle cx="926.3" cy="430.7" r="0.9" fill="#3a3a3a"/>
<circle cx="877" cy="438.6" r="26.5" fill="none" stroke="#383838" stroke-width="1.6"/>
<circle cx="876.7" cy="472.6" r="2.9" fill="#fff"/>
<circle cx="866.2" cy="470.9" r="2.9" fill="#fff"/>
<circle cx="856.7" cy="466.1" r="2.9" fill="#fff"/>
<circle cx="849.2" cy="458.6" r="2.9" fill="#fff"/>
<circle cx="844.4" cy="449.1" r="2.9" fill="#fff"/>
<circle cx="842.7" cy="438.6" r="2.9" fill="#fff"/>
<circle cx="844.4" cy="428.1" r="2.9" fill="#fff"/>
<circle cx="849.2" cy="418.6" r="2.9" fill="#fff"/>
<circle cx="856.7" cy="411.1" r="2.9" fill="#fff"/>
<circle cx="866.2" cy="406.3" r="2.9" fill="#fff"/>
<circle cx="876.7" cy="404.6" r="2.9" fill="#fff"/>
<circle cx="887.2" cy="406.3" r="2.9" fill="#fff"/>
<circle cx="896.7" cy="411.1" r="2.9" fill="#fff"/>
<circle cx="904.2" cy="418.6" r="2.9" fill="#fff"/>
<circle cx="909.0" cy="428.1" r="2.9" fill="#fff"/>
<circle cx="910.7" cy="438.6" r="2.9" fill="#fff"/>
<circle cx="909.0" cy="449.1" r="2.9" fill="#fff"/>
<circle cx="904.2" cy="458.6" r="2.9" fill="#fff"/>
<circle cx="896.7" cy="466.1" r="2.9" fill="#fff"/>
<circle cx="887.2" cy="470.9" r="2.9" fill="#fff"/>
<circle cx="875.7" cy="456.2" r="2" fill="#fff"/>
<circle cx="860.5" cy="447.4" r="2" fill="#fff"/>
<circle cx="860.5" cy="429.8" r="2" fill="#fff"/>
<circle cx="875.7" cy="421.0" r="2" fill="#fff"/>
<circle cx="890.9" cy="429.8" r="2" fill="#fff"/>
<circle cx="890.9" cy="447.4" r="2" fill="#fff"/>
<circle cx="875.7" cy="438.6" r="11.7" fill="#fff"/>
<rect x="868.9" y="437.6" width="14.1" height="2" fill="#e0249c"/>
<circle cx="860" cy="438.2" r="4.6" fill="#c42a8e"/><circle cx="860" cy="438.2" r="2" fill="#7a1a5a"/>
<circle cx="893.9" cy="438.2" r="4.6" fill="#c42a8e"/><circle cx="893.9" cy="438.2" r="2" fill="#7a1a5a"/>
<rect x="907.8" y="490" width="45.1" height="8.0" fill="#151515"/>
<text x="912.8" y="496.6" font-size="6.8" font-weight="bold" fill="#e8e8e8" textLength="35.1" lengthAdjust="spacingAndGlyphs">WHEEL FACE</text>
<circle cx="973.5" cy="441.8" r="27.7" fill="#545454" stroke="#2a2a2a" stroke-width="1.4"/>
<circle cx="973.5" cy="441.8" r="23" fill="none" stroke="#3a3a3a" stroke-width="1"/>
<circle cx="964.8" cy="427.1" r="4.3" fill="#333"/><circle cx="964.8" cy="427.1" r="2.1" fill="#fff"/>
<circle cx="981.7" cy="427.1" r="4.3" fill="#333"/><circle cx="981.7" cy="427.1" r="2.1" fill="#fff"/>
<circle cx="964.8" cy="457.1" r="4.3" fill="#333"/><circle cx="964.8" cy="457.1" r="2.1" fill="#fff"/>
<circle cx="981.7" cy="457.1" r="4.3" fill="#333"/><circle cx="981.7" cy="457.1" r="2.1" fill="#fff"/>
<circle cx="956.3" cy="442.1" r="4" fill="#e0249c"/><circle cx="955.3" cy="441" r="1.3" fill="#f8c8e8"/>
<circle cx="990.8" cy="442.1" r="4" fill="#e0249c"/><circle cx="989.8" cy="441" r="1.3" fill="#f8c8e8"/>
<ellipse cx="973.9" cy="441.7" rx="6" ry="3" fill="#e0249c" stroke="none" stroke-width="1" opacity="0.6"/>
<rect x="981.4" y="472.1" width="29.0" height="7.8" fill="#151515"/>
<text x="986.4" y="478.5" font-size="6.6" font-weight="bold" fill="#e8e8e8" textLength="19.0" lengthAdjust="spacingAndGlyphs">COVER</text>
</svg></body></html>
